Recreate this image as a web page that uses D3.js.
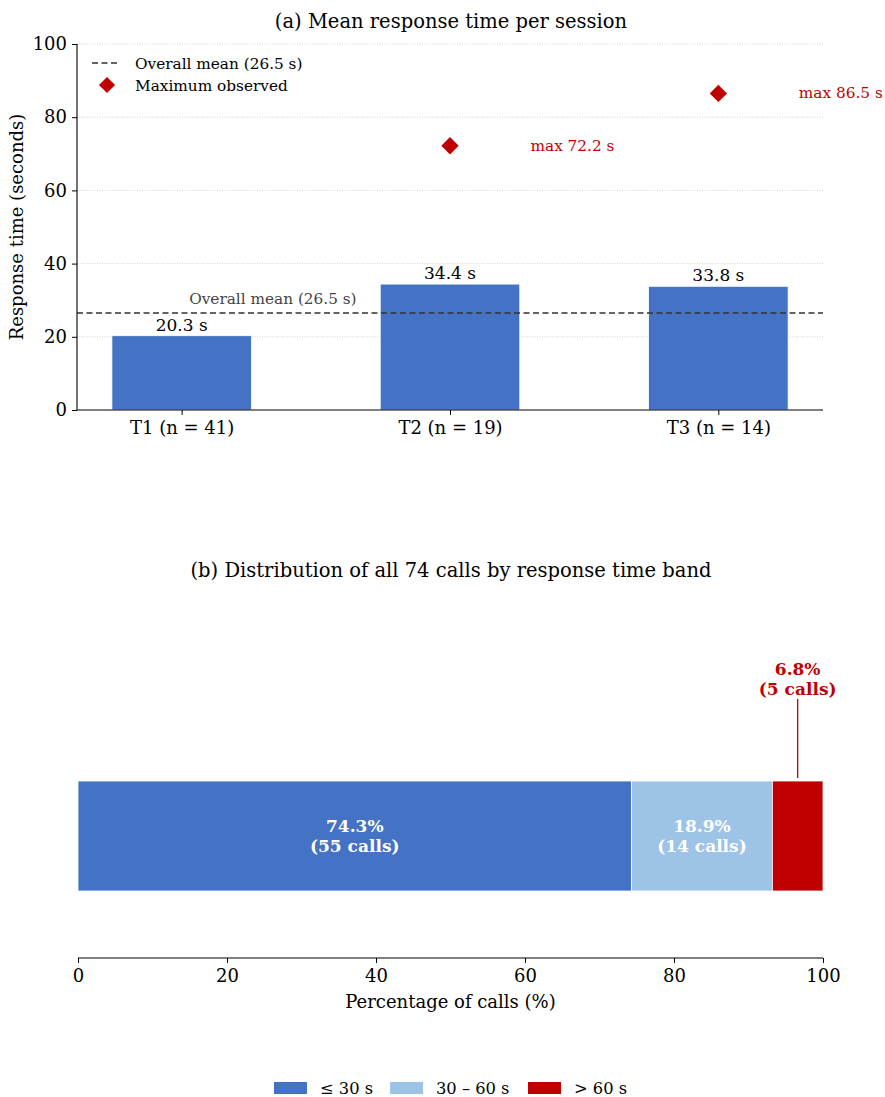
<!DOCTYPE html>
<html>
<head>
<meta charset="utf-8">
<script src="https://cdn.jsdelivr.net/npm/d3@7"></script>
<style>
  body { margin: 0; background: #fff; }
  svg { display: block; font-family: "DejaVu Serif", serif; }
</style>
</head>
<body>
<svg id="chart" width="885" height="1097"></svg>
<script>
// Session summary
const sessions = ["T1 (n = 41)", "T2 (n = 19)", "T3 (n = 14)"];
const meanTimes = [20.3, 34.4, 33.8];
const maxTimes = [null, 72.2, 86.5];
const overallMean = 26.5;
const yTicks = [0, 20, 40, 60, 80, 100];

// Response time bands across all calls
const bands = ["\u2264 30 s", "30 \u2013 60 s", "> 60 s"];
const bandPct = [74.3, 18.9, 6.8];
const bandCalls = [55, 14, 5];
const totalCalls = 74;
const xTicks = [0, 20, 40, 60, 80, 100];

const BLUE = "#4472c4", LIGHT = "#9dc3e6", RED = "#c00000";
const bandColors = [BLUE, LIGHT, RED];

const svg = d3.select("#chart");

// ---------- Panel (a) ----------
const a = { left: 77, right: 823, top: 44, bottom: 410 };
const xA = d3.scaleLinear().domain([-0.39, 2.39]).range([a.left, a.right]);
const yA = d3.scaleLinear().domain([0, 100]).range([a.bottom, a.top]);
const barW = 0.52;

const gA = svg.append("g");

gA.append("text")
  .attr("x", (a.left + a.right) / 2 + 1).attr("y", 28)
  .attr("text-anchor", "middle").attr("font-size", 19.5).attr("fill", "#000")
  .text("(a) Mean response time per session");

// horizontal grid
gA.selectAll("line.grid").data(yTicks.filter(d => d > 0)).join("line")
  .attr("x1", a.left).attr("x2", a.right)
  .attr("y1", d => yA(d)).attr("y2", d => yA(d))
  .attr("stroke", "#c8c8c8").attr("stroke-width", 0.8)
  .attr("stroke-dasharray", "1,1.5");

// bars
gA.selectAll("rect.bar").data(meanTimes).join("rect")
  .attr("x", (d, i) => xA(i - barW / 2))
  .attr("width", (d, i) => xA(i + barW / 2) - xA(i - barW / 2))
  .attr("y", d => yA(d))
  .attr("height", d => yA(0) - yA(d))
  .attr("fill", BLUE).attr("stroke", "#fff").attr("stroke-width", 0.8);

// overall mean
gA.append("line")
  .attr("x1", a.left).attr("x2", a.right)
  .attr("y1", yA(overallMean)).attr("y2", yA(overallMean))
  .attr("stroke", "#333").attr("stroke-width", 1.6)
  .attr("stroke-dasharray", "6,3.5");
gA.append("text")
  .attr("x", xA(0.34)).attr("y", yA(overallMean) - 9)
  .attr("text-anchor", "middle").attr("font-size", 15.3).attr("fill", "#444")
  .text(`Overall mean (${overallMean} s)`);

// bar value labels
gA.selectAll("text.val").data(meanTimes).join("text")
  .attr("x", (d, i) => xA(i)).attr("y", d => yA(d) - 5)
  .attr("text-anchor", "middle").attr("font-size", 17).attr("fill", "#000")
  .text(d => `${d} s`);

// maximum markers
const maxData = maxTimes.map((v, i) => ({ v, i })).filter(d => d.v != null);
gA.selectAll("path.max").data(maxData).join("path")
  .attr("d", d3.symbol().type(d3.symbolSquare).size(150))
  .attr("transform", d => `translate(${xA(d.i)},${yA(d.v)}) rotate(45)`)
  .attr("fill", RED);
gA.selectAll("text.max").data(maxData).join("text")
  .attr("x", d => xA(d.i + 0.3)).attr("y", d => yA(d.v) + 5)
  .attr("font-size", 15.3).attr("fill", RED)
  .text(d => `max ${d.v} s`);

// axes
const axLeft = gA.append("g").attr("transform", `translate(${a.left},0)`)
  .call(d3.axisLeft(yA).tickValues(yTicks).tickSize(5).tickPadding(5));
const axBottom = gA.append("g").attr("transform", `translate(0,${a.bottom})`)
  .call(d3.axisBottom(xA).tickValues([0, 1, 2]).tickFormat(i => sessions[i]).tickSize(5).tickPadding(6));
[axLeft, axBottom].forEach(ax => {
  ax.selectAll("text").attr("font-size", 18).attr("font-family", "DejaVu Serif").attr("fill", "#000");
  ax.selectAll("line").attr("stroke", "#000").attr("stroke-width", 1);
  ax.select(".domain").attr("stroke", "#000").attr("stroke-width", 1.1);
});
axLeft.select(".domain").attr("d", `M0,${a.bottom}V${a.top}`);
axBottom.select(".domain").attr("d", `M${a.left},0H${a.right}`);

gA.append("text")
  .attr("transform", `translate(23,${(a.top + a.bottom) / 2}) rotate(-90)`)
  .attr("text-anchor", "middle").attr("font-size", 18).attr("fill", "#000")
  .text("Response time (seconds)");

// legend
const lg = gA.append("g").attr("transform", "translate(92,63)");
lg.append("line").attr("x1", 0).attr("x2", 28).attr("y1", 0).attr("y2", 0)
  .attr("stroke", "#333").attr("stroke-width", 1.6).attr("stroke-dasharray", "6,3.5");
lg.append("text").attr("x", 43).attr("y", 5.5).attr("font-size", 15.3).text(`Overall mean (${overallMean} s)`);
lg.append("path").attr("d", d3.symbol().type(d3.symbolSquare).size(130))
  .attr("transform", "translate(15,22) rotate(45)").attr("fill", RED);
lg.append("text").attr("x", 43).attr("y", 27.5).attr("font-size", 15.3).text("Maximum observed");

// ---------- Panel (b) ----------
const b = { left: 78, right: 823, barTop: 781, barBottom: 891, axisY: 958 };
const xB = d3.scaleLinear().domain([0, 100]).range([b.left, b.right]);
const gB = svg.append("g");

gB.append("text")
  .attr("x", (b.left + b.right) / 2 + 0.5).attr("y", 577)
  .attr("text-anchor", "middle").attr("font-size", 19.5).attr("fill", "#000")
  .text(`(b) Distribution of all ${totalCalls} calls by response time band`);

let acc = 0;
const segs = bandPct.map((p, i) => { const s = { start: acc, p, i }; acc += p; return s; });

gB.selectAll("rect.seg").data(segs).join("rect")
  .attr("x", d => xB(d.start)).attr("width", d => xB(d.start + d.p) - xB(d.start))
  .attr("y", b.barTop).attr("height", b.barBottom - b.barTop)
  .attr("fill", d => bandColors[d.i]).attr("stroke", "#fff").attr("stroke-width", 0.8);

// in-bar labels for the wider segments
const inside = segs.filter(d => d.p > 10);
const inLbl = gB.selectAll("text.in").data(inside).join("text")
  .attr("text-anchor", "middle").attr("font-size", 17).attr("font-weight", "bold").attr("fill", "#fff")
  .attr("x", d => xB(d.start + d.p / 2));
inLbl.append("tspan").attr("x", d => xB(d.start + d.p / 2)).attr("y", 832).text(d => `${d.p}%`);
inLbl.append("tspan").attr("x", d => xB(d.start + d.p / 2)).attr("y", 852).text(d => `(${bandCalls[d.i]} calls)`);

// callout for the narrow segment
const outside = segs.filter(d => d.p <= 10);
outside.forEach(d => {
  const cx = xB(d.start + d.p / 2);
  gB.append("line").attr("x1", cx).attr("x2", cx).attr("y1", 699).attr("y2", b.barTop - 3)
    .attr("stroke", RED).attr("stroke-width", 1.3);
  const t = gB.append("text").attr("text-anchor", "middle").attr("font-size", 17)
    .attr("font-weight", "bold").attr("fill", RED);
  t.append("tspan").attr("x", cx).attr("y", 675).text(`${d.p}%`);
  t.append("tspan").attr("x", cx).attr("y", 695).text(`(${bandCalls[d.i]} calls)`);
});

const axB = gB.append("g").attr("transform", `translate(0,${b.axisY})`)
  .call(d3.axisBottom(xB).tickValues(xTicks).tickSize(5).tickPadding(6));
axB.selectAll("text").attr("font-size", 18).attr("font-family", "DejaVu Serif").attr("fill", "#000");
axB.selectAll("line").attr("stroke", "#000");
axB.select(".domain").attr("stroke", "#000").attr("stroke-width", 1.1).attr("d", `M${b.left},0H${b.right}`);

gB.append("text")
  .attr("x", (b.left + b.right) / 2).attr("y", 1008)
  .attr("text-anchor", "middle").attr("font-size", 18).attr("fill", "#000")
  .text("Percentage of calls (%)");

// bottom legend
const legB = gB.append("g");
const legX = [274, 390, 528];
bands.forEach((name, i) => {
  legB.append("rect").attr("x", legX[i]).attr("y", 1082).attr("width", 33).attr("height", 12)
    .attr("fill", bandColors[i]);
  legB.append("text").attr("x", legX[i] + 46).attr("y", 1094).attr("font-size", 16.3).text(name);
});
</script>
</body>
</html>
